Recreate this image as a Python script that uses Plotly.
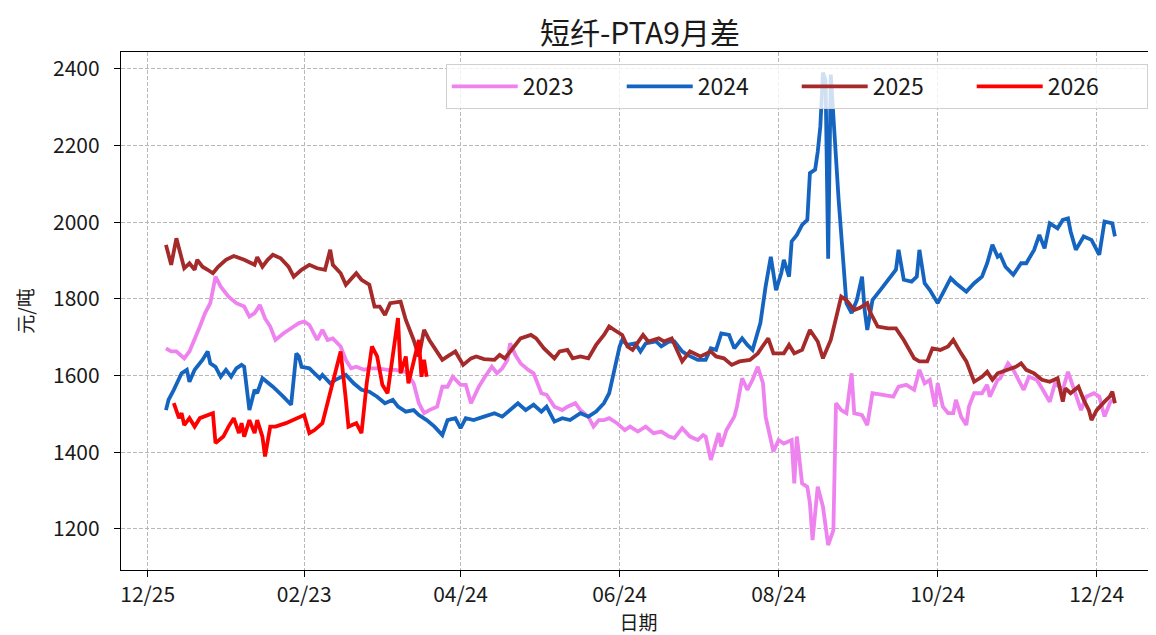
import plotly.graph_objects as go

# Data: MM-DD dates (plotted on a common year) and values in 元/吨
dates_2023 = [
    "01-01", "01-03", "01-05", "01-08", "01-10", "01-12", "01-14", "01-16", "01-18", "01-20",
    "01-22", "01-25", "01-28", "01-31", "02-02", "02-04", "02-06", "02-08", "02-10", "02-12",
    "02-15", "02-19", "02-21", "02-23", "02-25", "02-28", "03-02", "03-04", "03-06", "03-09",
    "03-11", "03-13", "03-15", "03-18", "03-20", "03-23", "03-27", "03-30", "04-03", "04-06",
    "04-08", "04-10", "04-12", "04-15", "04-17", "04-19", "04-21", "04-24", "04-26", "04-28",
    "05-01", "05-03", "05-06", "05-08", "05-10", "05-12", "05-13", "05-15", "05-17", "05-20",
    "05-22", "05-25", "05-27", "05-30", "06-02", "06-04", "06-07", "06-09", "06-12", "06-14",
    "06-16", "06-18", "06-20", "06-23", "06-26", "06-28", "07-01", "07-04", "07-07", "07-10",
    "07-13", "07-15", "07-18", "07-21", "07-24", "07-26", "07-27", "07-29", "07-31", "08-01",
    "08-02", "08-04", "08-07", "08-08", "08-10", "08-12", "08-14", "08-16", "08-18", "08-19",
    "08-22", "08-24", "08-26", "08-29", "08-30", "08-31", "09-02", "09-04", "09-05", "09-06",
    "09-08", "09-10", "09-12", "09-14", "09-15", "09-17", "09-19", "09-21", "09-22", "09-25",
    "09-27", "09-29", "10-03", "10-07", "10-09", "10-12", "10-15", "10-17", "10-19", "10-21",
    "10-23", "10-24", "10-26", "10-28", "10-30", "10-31", "11-02", "11-04", "11-05", "11-07",
    "11-10", "11-12", "11-13", "11-16", "11-17", "11-20", "11-22", "11-24", "11-26", "11-28",
    "12-01", "12-03", "12-06", "12-08", "12-11", "12-13", "12-15", "12-18", "12-20", "12-23",
    "12-25", "12-27", "12-29", "12-30",
]
values_2023 = [
    1671, 1663, 1663, 1645, 1663, 1693, 1728, 1763, 1789, 1858,
    1832, 1806, 1789, 1780, 1754, 1763, 1784, 1749, 1728, 1693,
    1710, 1728, 1737, 1741, 1732, 1693, 1719, 1693, 1697, 1676,
    1641, 1619, 1623, 1615, 1619, 1619, 1615, 1615, 1610, 1580,
    1528, 1502, 1510, 1519, 1571, 1571, 1597, 1576, 1576, 1528,
    1571, 1593, 1623, 1606, 1619, 1641, 1684, 1654, 1632, 1615,
    1606, 1554, 1550, 1519, 1510, 1519, 1528, 1510, 1493, 1467,
    1484, 1484, 1489, 1476, 1458, 1467, 1454, 1467, 1450, 1454,
    1441, 1437, 1463, 1441, 1432, 1445, 1441, 1380, 1424, 1450,
    1415, 1458, 1493, 1519, 1593, 1563, 1589, 1623, 1580, 1493,
    1402, 1432, 1423, 1432, 1319, 1441, 1319, 1310, 1267, 1171,
    1310, 1258, 1158, 1197, 1528, 1510, 1502, 1606, 1502, 1497,
    1471, 1554, 1550, 1545, 1571, 1576, 1563, 1615, 1580, 1589,
    1519, 1580, 1519, 1502, 1502, 1537, 1493, 1471, 1519, 1554,
    1554, 1576, 1545, 1589, 1593, 1632, 1615, 1589, 1563, 1597,
    1589, 1567, 1532, 1580, 1563, 1610, 1571, 1510, 1545, 1554,
    1545, 1493, 1528, 1537,
]

dates_2024 = [
    "01-01", "01-02", "01-04", "01-07", "01-09", "01-10", "01-12", "01-15", "01-17", "01-18",
    "01-20", "01-22", "01-24", "01-26", "01-28", "01-30", "01-31", "02-02", "02-04", "02-05",
    "02-07", "02-11", "02-15", "02-18", "02-20", "02-21", "02-22", "02-25", "02-27", "03-01",
    "03-02", "03-05", "03-07", "03-11", "03-14", "03-17", "03-20", "03-23", "03-26", "03-29",
    "03-31", "04-03", "04-06", "04-08", "04-11", "04-14", "04-17", "04-19", "04-22", "04-24",
    "04-26", "04-29", "05-03", "05-07", "05-10", "05-13", "05-16", "05-19", "05-22", "05-25",
    "05-27", "05-30", "06-02", "06-05", "06-09", "06-12", "06-15", "06-18", "06-20", "06-22",
    "06-24", "06-25", "06-27", "06-30", "07-02", "07-04", "07-08", "07-10", "07-13", "07-15",
    "07-18", "07-20", "07-24", "07-27", "07-29", "07-31", "08-02", "08-05", "08-07", "08-10",
    "08-12", "08-14", "08-17", "08-19", "08-21", "08-23", "08-25", "08-26", "08-28", "08-29",
    "08-31", "09-02", "09-04", "09-05", "09-07", "09-08", "09-09", "09-10", "09-11", "09-12",
    "09-13", "09-16", "09-19", "09-21", "09-23", "09-25", "09-26", "09-27", "09-29", "10-02",
    "10-05", "10-08", "10-09", "10-11", "10-14", "10-16", "10-17", "10-19", "10-21", "10-24",
    "10-26", "10-29", "10-31", "11-04", "11-07", "11-10", "11-12", "11-14", "11-16", "11-17",
    "11-19", "11-22", "11-25", "11-27", "11-30", "12-02", "12-04", "12-06", "12-09", "12-11",
    "12-13", "12-14", "12-16", "12-19", "12-22", "12-25", "12-27", "12-30", "12-31",
]
values_2024 = [
    1510, 1537, 1563, 1606, 1615, 1584, 1615, 1641, 1663, 1632,
    1623, 1597, 1615, 1597, 1619, 1628, 1623, 1510, 1563, 1554,
    1593, 1571, 1545, 1524, 1658, 1650, 1623, 1619, 1606, 1593,
    1602, 1580, 1589, 1602, 1580, 1563, 1558, 1545, 1528, 1537,
    1519, 1506, 1510, 1497, 1484, 1467, 1445, 1484, 1489, 1463,
    1489, 1484, 1493, 1502, 1493, 1510, 1528, 1510, 1524, 1506,
    1519, 1480, 1489, 1484, 1502, 1493, 1506, 1528, 1554, 1615,
    1676, 1693, 1680, 1684, 1663, 1684, 1689, 1676, 1689, 1689,
    1663, 1654, 1641, 1641, 1671, 1667, 1710, 1706, 1671, 1697,
    1680, 1667, 1737, 1832, 1910, 1823, 1867, 1902, 1858, 1950,
    1967, 1993, 2006, 2128, 2137, 2184, 2250, 2390, 2370, 1905,
    2385, 2060, 1789, 1763, 1797, 1858, 1771, 1719, 1797, 1823,
    1850, 1876, 1928, 1850, 1845, 1858, 1928, 1841, 1823, 1789,
    1815, 1854, 1841, 1819, 1841, 1858, 1893, 1941, 1910, 1915,
    1884, 1863, 1893, 1893, 1928, 1967, 1932, 1997, 1984, 2006,
    2010, 1976, 1928, 1963, 1954, 1915, 2002, 1997, 1963,
]

dates_2025 = [
    "01-01", "01-03", "01-05", "01-07", "01-08", "01-10", "01-12", "01-13", "01-15", "01-17",
    "01-19", "01-21", "01-24", "01-27", "01-31", "02-04", "02-05", "02-07", "02-09", "02-11",
    "02-14", "02-17", "02-19", "02-22", "02-25", "02-28", "03-03", "03-05", "03-06", "03-09",
    "03-11", "03-15", "03-17", "03-20", "03-22", "03-24", "03-26", "03-28", "04-01", "04-03",
    "04-06", "04-08", "04-10", "04-12", "04-15", "04-17", "04-19", "04-22", "04-25", "04-28",
    "04-30", "05-03", "05-07", "05-09", "05-11", "05-14", "05-17", "05-21", "05-23", "05-26",
    "05-30", "06-01", "06-04", "06-06", "06-09", "06-12", "06-15", "06-18", "06-20", "06-22",
    "06-25", "06-27", "06-29", "07-03", "07-05", "07-09", "07-11", "07-14", "07-16", "07-18",
    "07-21", "07-25", "07-29", "07-31", "08-03", "08-06", "08-09", "08-13", "08-16", "08-20",
    "08-22", "08-26", "08-28", "08-30", "09-02", "09-05", "09-08", "09-10", "09-13", "09-15",
    "09-17", "09-19", "09-22", "09-24", "09-27", "09-28", "10-01", "10-05", "10-08", "10-11",
    "10-15", "10-17", "10-20", "10-22", "10-25", "10-28", "10-30", "11-02", "11-04", "11-07",
    "11-10", "11-12", "11-14", "11-16", "11-20", "11-23", "11-25", "11-27", "11-30", "12-03",
    "12-06", "12-09", "12-11", "12-12", "12-14", "12-17", "12-19", "12-21", "12-22", "12-24",
    "12-27", "12-29", "12-30", "12-31",
]
values_2025 = [
    1941, 1889, 1958, 1910, 1880, 1893, 1876, 1902, 1884, 1876,
    1867, 1884, 1902, 1912, 1902, 1889, 1909, 1884, 1902, 1915,
    1906, 1884, 1858, 1876, 1889, 1880, 1876, 1928, 1889, 1867,
    1837, 1867, 1850, 1837, 1780, 1780, 1758, 1789, 1793, 1745,
    1693, 1650, 1719, 1693, 1663, 1641, 1650, 1663, 1628, 1645,
    1650, 1643, 1641, 1654, 1645, 1671, 1697, 1706, 1697, 1671,
    1645, 1663, 1667, 1645, 1650, 1645, 1680, 1706, 1728, 1719,
    1706, 1676, 1667, 1706, 1689, 1697, 1689, 1697, 1667, 1637,
    1663, 1650, 1663, 1650, 1645, 1628, 1637, 1641, 1658, 1697,
    1658, 1658, 1680, 1658, 1667, 1719, 1689, 1645, 1693, 1754,
    1806, 1797, 1771, 1776, 1789, 1767, 1728, 1723, 1723, 1693,
    1645, 1637, 1637, 1671, 1667, 1676, 1693, 1658, 1637, 1584,
    1597, 1610, 1589, 1606, 1616, 1623, 1632, 1615, 1606, 1589,
    1584, 1593, 1532, 1567, 1554, 1571, 1537, 1510, 1484, 1510,
    1532, 1545, 1558, 1528,
]

dates_2026 = [
    "01-04", "01-06", "01-07", "01-08", "01-10", "01-12", "01-14", "01-17", "01-19", "01-20",
    "01-23", "01-25", "01-27", "01-29", "01-30", "01-31", "02-02", "02-04", "02-05", "02-07",
    "02-08", "02-10", "02-12", "02-16", "02-20", "02-23", "02-25", "02-27", "03-02", "03-04",
    "03-06", "03-09", "03-11", "03-12", "03-15", "03-17", "03-19", "03-21", "03-23", "03-25",
    "03-27", "03-29", "03-31", "04-01", "04-03", "04-04", "04-06", "04-08", "04-09", "04-10",
    "04-11",
]
values_2026 = [
    1528, 1489, 1502, 1471, 1489, 1467, 1489, 1497, 1502, 1424,
    1441, 1467, 1489, 1450, 1476, 1441, 1484, 1450, 1484, 1441,
    1389, 1467, 1467, 1476, 1489, 1497, 1450, 1458, 1476, 1528,
    1580, 1663, 1537, 1467, 1476, 1450, 1580, 1676, 1650, 1576,
    1554, 1658, 1750, 1606, 1650, 1580, 1641, 1693, 1597, 1641,
    1597,
]

tick_dates = ["2022-12-25", "2023-02-23", "2023-04-24", "2023-06-24",
              "2023-08-24", "2023-10-24", "2023-12-24"]
tick_labels = ["12/25", "02/23", "04/24", "06/24", "08/24", "10/24", "12/24"]
y_ticks = [1200, 1400, 1600, 1800, 2000, 2200, 2400]

series = [
    ("2023", dates_2023, values_2023, "#EE82EE"),
    ("2024", dates_2024, values_2024, "#1565C0"),
    ("2025", dates_2025, values_2025, "#A52A2A"),
    ("2026", dates_2026, values_2026, "#FF0000"),
]

FONT = "Noto Sans CJK SC, Noto Sans, sans-serif"
TEXT = "#1a1a1a"

fig = go.Figure()
for name, dates, values, color in series:
    fig.add_trace(go.Scatter(
        x=["2023-" + d for d in dates],
        y=values,
        mode="lines",
        name=name,
        line=dict(color=color, width=3.8),
    ))

grid = dict(
    automargin=False,
    showgrid=True,
    gridcolor="#b8b8b8",
    gridwidth=0.8,
    griddash="4px,2px",
    zeroline=False,
    showline=True,
    linecolor="black",
    linewidth=1.2,
    ticks="outside",
    ticklen=6,
    tickcolor="black",
    tickfont=dict(family=FONT, size=21, color=TEXT),
)

fig.update_xaxes(
    type="date",
    range=["2022-12-14 18:00", "2024-01-15 18:00"],
    tickvals=tick_dates,
    ticktext=tick_labels,
    mirror=True,
    title=dict(text="日期", font=dict(family=FONT, size=19, color=TEXT), standoff=0),
    **grid,
)
fig.update_yaxes(
    range=[1093, 2444],
    tickvals=y_ticks,
    mirror=False,
    ticklabelstandoff=10,
    title=dict(text="元/吨", font=dict(family=FONT, size=19, color=TEXT), standoff=14),
    **grid,
)

# the page body has an 8px margin, so the figure is sized and offset to match
fig.update_layout(
    width=1148,
    height=627,
    paper_bgcolor="white",
    plot_bgcolor="white",
    margin=dict(l=113, r=0, t=44, b=65),
    title=dict(
        text="短纤-PTA9月差",
        font=dict(family=FONT, size=30, color=TEXT),
        x=0.5505, xanchor="center", y=0.959, yanchor="middle",
    ),
    legend=dict(
        orientation="h",
        x=0.992, xanchor="right",
        y=0.977, yanchor="top",
        bgcolor="rgba(255,255,255,0.8)",
        bordercolor="#d0d0d0",
        borderwidth=1,
        font=dict(family=FONT, size=23, color=TEXT),
        itemwidth=66,
        entrywidth=94,
        entrywidthmode="pixels",
    ),
    showlegend=True,
)

fig.write_html("out.html")
